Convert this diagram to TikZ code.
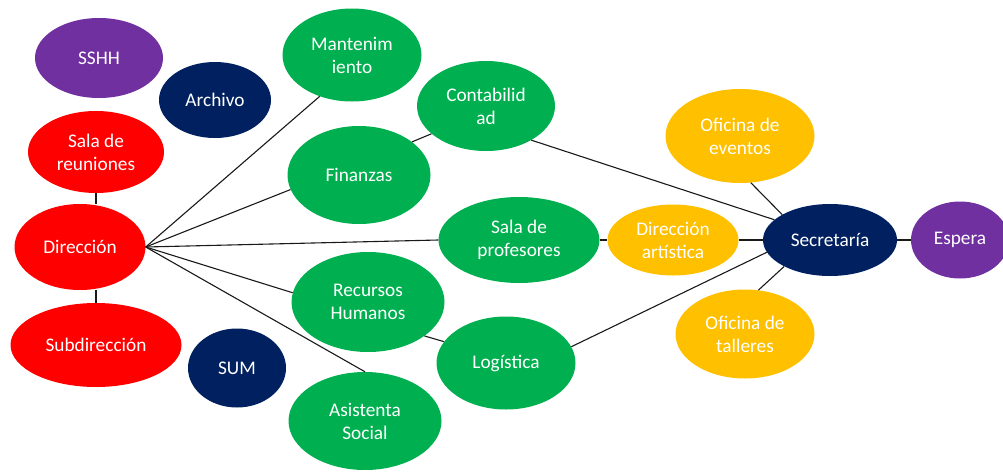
\documentclass[tikz,border=0pt]{standalone}
\usepackage{fontspec}
\setmainfont{Carlito}
\usetikzlibrary{shapes.geometric}
\definecolor{cpurple}{HTML}{7030A0}
\definecolor{cnavy}{HTML}{002060}
\definecolor{cred}{HTML}{FF0000}
\definecolor{cgreen}{HTML}{00B050}
\definecolor{cyellow}{HTML}{FFC000}
\tikzset{
  bub/.style={ellipse, inner sep=0pt, text=white, align=center,
    font=\fontsize{19.3}{23}\selectfont},
  conn/.style={draw=black!90, line width=1.1pt},
}
\begin{document}
\begin{tikzpicture}[x=1pt,y=-1pt]
\useasboundingbox (0,0) rectangle (1003,471);
\node[bub, fill=cpurple, minimum width=128pt, minimum height=80pt] (sshh) at (99,58) {SSHH};
\node[bub, fill=cnavy, minimum width=112pt, minimum height=76pt] (arch) at (215,100) {Archivo};
\node[bub, fill=cred, minimum width=136pt, minimum height=82pt] (sala) at (96,152) {Sala de\\reuniones};
\node[bub, fill=cred, minimum width=131pt, minimum height=86pt] (dir) at (80,247) {Dirección};
\node[bub, fill=cred, minimum width=171pt, minimum height=84pt] (sub) at (96,345) {Subdirección};
\node[bub, fill=cnavy, minimum width=98pt, minimum height=79pt] (sum) at (237,368) {SUM};
\node[bub, fill=cgreen, minimum width=139pt, minimum height=93pt] (mant) at (352,55) {Mantenim\\iento};
\node[bub, fill=cgreen, minimum width=138pt, minimum height=90pt] (cont) at (486,106) {Contabilid\\ad};
\node[bub, fill=cgreen, minimum width=143pt, minimum height=98pt] (fin) at (359,175) {Finanzas};
\node[bub, fill=cgreen, minimum width=161pt, minimum height=86pt] (prof) at (519,240) {Sala de\\profesores};
\node[bub, fill=cgreen, minimum width=153pt, minimum height=100pt] (rh) at (368,302) {Recursos\\Humanos};
\node[bub, fill=cgreen, minimum width=139pt, minimum height=93pt] (log) at (506,363) {Logística};
\node[bub, fill=cgreen, minimum width=153pt, minimum height=98pt] (asis) at (365,421) {Asistenta\\Social};
\node[bub, fill=cyellow, minimum width=131pt, minimum height=71pt] (art) at (673,240) {Dirección\\artística};
\node[bub, fill=cyellow, minimum width=149pt, minimum height=94pt] (ev) at (740,136) {Oficina de\\eventos};
\node[bub, fill=cyellow, minimum width=139pt, minimum height=89pt] (tal) at (745,334) {Oficina de\\talleres};
\node[bub, fill=cnavy, minimum width=134pt, minimum height=72pt] (sec) at (830,240) {Secretaría};
\node[bub, fill=cpurple, minimum width=98pt, minimum height=77pt] (esp) at (960,240) {Espera};
% connectors
\draw[conn] (sala.south) -- (dir.north -| sala.south);
\draw[conn] (dir.south -| sub.north) -- (sub.north);
\draw[conn] (dir.east) -- (mant.232);
\draw[conn] (dir.east) -- (fin.192);
\draw[conn] (dir.east) -- (prof.west);
\draw[conn] (dir.east) -- (rh.173);
\draw[conn] (dir.east) -- (asis.north);
\draw[conn] (fin.32) -- (cont.207);
\draw[conn] (rh.-31) -- (log.161);
\draw[conn] (cont.-37) -- (sec.160);
\draw[conn] (log.14) -- (sec.191);
\draw[conn] (prof) -- (art);
\draw[conn] (art) -- (sec);
\draw[conn] (ev.283) -- (sec.152);
\draw[conn] (tal.73) -- (sec.210);
\draw[conn] (sec) -- (esp);
\end{tikzpicture}
\end{document}
